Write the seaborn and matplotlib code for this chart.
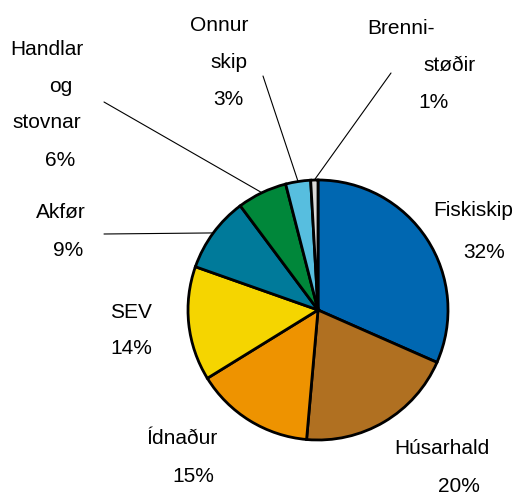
import numpy as np
import matplotlib
matplotlib.use("Agg")
import matplotlib.pyplot as plt
import seaborn as sns

# ---- data ----
categories = ["Fiskiskip", "Húsarhald", "Ídnaður", "SEV", "Akfør",
              "Handlar\nog\nstovnar", "Onnur\nskip", "Brenni-\nstøðir"]
shares = [31.6, 19.8, 14.8, 14.2, 9.4, 6.2, 3.1, 0.9]
pct_labels = ["32%", "20%", "15%", "14%", "9%", "6%", "3%", "1%"]

# ---- styles / layout ----
colors = ["#0067B1", "#B07021", "#EE9300", "#F5D500", "#007A9A",
          "#00873A", "#57BEDF", "#D9D9D9"]
W, H = 516, 494
center_px = (318, 310)
radius_px = 130
# per-line label centres in pixel coords (name lines..., percent line)
label_pos = [
    [(473, 210), (484, 253)],
    [(442, 448), (459, 486)],
    [(182, 439), (193, 477)],
    [(131, 312), (131, 348)],
    [(61, 213), (68, 251)],
    [(47, 50), (61, 87), (47, 123), (60, 161)],
    [(219, 26), (229, 63), (228, 100)],
    [(401, 29), (450, 66), (433, 103)],
]
leader_start = {4: (104, 234), 5: (104, 102), 6: (263, 76), 7: (391, 73)}

sns.set_theme(style="white")
plt.rcParams["font.family"] = ["Liberation Sans", "DejaVu Sans"]

fig = plt.figure(figsize=(W / 100, H / 100), dpi=100)
ax = fig.add_axes([0, 0, 1, 1])
ax.set_xlim(0, W)
ax.set_ylim(0, H)
ax.set_aspect("equal")
ax.axis("off")


def to_data(p):
    return (p[0], H - p[1])


cx, cy = to_data(center_px)
wedges, _ = ax.pie(shares, colors=colors, startangle=90, counterclock=False,
                   center=(cx, cy), radius=radius_px, normalize=True,
                   wedgeprops=dict(edgecolor="black", linewidth=2.0))
ax.set_xlim(0, W)
ax.set_ylim(0, H)

for i, w in enumerate(wedges):
    lines = categories[i].split("\n") + [pct_labels[i]]
    for txt, pos in zip(lines, label_pos[i]):
        x, y = to_data(pos)
        ax.text(x, y, txt, ha="center", va="center", fontsize=15, color="black")
    if i in leader_start:
        mid = np.deg2rad((w.theta1 + w.theta2) / 2)
        ex = cx + radius_px * np.cos(mid)
        ey = cy + radius_px * np.sin(mid)
        sx, sy = to_data(leader_start[i])
        ax.plot([sx, ex], [sy, ey], color="black", linewidth=0.8, zorder=0)

fig.savefig("out.png", dpi=100)
